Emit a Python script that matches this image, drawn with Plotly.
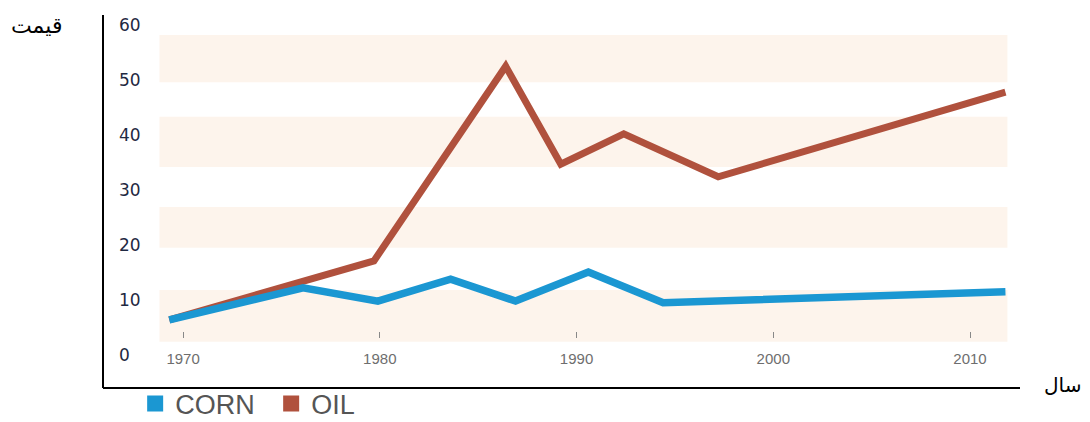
import plotly.graph_objects as go

# ---- data ----
oil_years = [1969.3, 1979.7, 1986.4, 1989.2, 1992.4, 1997.2, 2011.8]
oil_values = [6.4, 17.1, 52.5, 34.7, 40.2, 32.4, 47.8]

corn_years = [1969.3, 1976.1, 1979.9, 1983.6, 1986.9, 1990.6, 1994.4, 2011.8]
corn_values = [6.4, 12.2, 9.8, 13.8, 9.8, 15.1, 9.5, 11.5]

x_ticks = [1970, 1980, 1990, 2000, 2010]
x_tick_labels = ["1970", "1980", "1990", "2000", "2010"]
y_ticks = [0, 10, 20, 30, 40, 50, 60]
y_tick_labels = ["0", "10", "20", "30", "40", "50", "60"]

series_names = ["CORN", "OIL"]
y_title = "قیمت"
x_title = "سال"

# ---- styles ----
CORN_COLOR = "#1b97d2"
OIL_COLOR = "#b0513d"
BAND_COLOR = "#fdf4ec"
bands = [(2.4, 11.8), (19.5, 26.9), (34.2, 43.3), (49.6, 58.2)]
band_x = (1968.8, 2011.9)

fig = go.Figure()

fig.add_trace(go.Scatter(x=oil_years, y=oil_values, mode="lines",
                         line=dict(color=OIL_COLOR, width=7),
                         showlegend=False, hoverinfo="skip"))
fig.add_trace(go.Scatter(x=corn_years, y=corn_values, mode="lines",
                         line=dict(color=CORN_COLOR, width=7.5),
                         showlegend=False, hoverinfo="skip"))

# legend entries (square swatches)
for name, col in zip(series_names, [CORN_COLOR, OIL_COLOR]):
    fig.add_trace(go.Scatter(x=[None], y=[None], mode="markers", name=name,
                             marker=dict(symbol="square", size=20, color=col)))

# plot area: top pixel 8, bottom pixel 388 (height 380)
shapes = []
for lo, hi in bands:
    shapes.append(dict(type="rect", xref="x", yref="y", x0=band_x[0], x1=band_x[1],
                       y0=lo, y1=hi, fillcolor=BAND_COLOR, line=dict(width=0),
                       layer="below"))
# axis frame lines
shapes.append(dict(type="line", xref="paper", yref="paper", x0=0, x1=1, y0=0, y1=0,
                   line=dict(color="black", width=2)))
shapes.append(dict(type="line", xref="paper", yref="paper", x0=0, x1=0, y0=0, y1=373 / 380,
                   line=dict(color="black", width=2)))

fig.update_layout(
    width=1090, height=422,
    margin=dict(l=103, r=70, t=8, b=34, autoexpand=False),
    paper_bgcolor="white", plot_bgcolor="white",
    shapes=shapes,
    showlegend=True,
    legend=dict(orientation="h", xref="container", yref="container",
                x=0.124, y=0.043, xanchor="left", yanchor="middle",
                entrywidth=91, entrywidthmode="pixels",
                font=dict(family="Liberation Sans, Arial, sans-serif", size=27, color="#555555"),
                itemclick=False, bgcolor="rgba(0,0,0,0)", tracegroupgap=0),
    xaxis=dict(range=[1965.93, 2012.54], tickvals=x_ticks, ticktext=x_tick_labels,
               anchor="free", position=57 / 380, showline=False, showgrid=False, zeroline=False,
               ticks="outside", ticklen=6, tickwidth=1, tickcolor="#888888",
               ticklabelstandoff=8,
               tickfont=dict(family="Liberation Sans, Arial, sans-serif", size=15, color="#6e6e6e")),
    yaxis=dict(range=[-6.0, 63.09], tickvals=y_ticks, ticktext=y_tick_labels,
               showline=False, showgrid=False, zeroline=False,
               ticks="", ticklabelposition="inside", ticklabelstandoff=13,
               tickfont=dict(family="DejaVu Sans, Verdana, sans-serif", size=17, color="#1f2942")),
    annotations=[
        dict(text=y_title, xref="paper", yref="paper", x=-0.072, y=(388 - 25) / 380,
             xanchor="center", yanchor="middle", showarrow=False,
             font=dict(family="DejaVu Sans, sans-serif", size=22, color="black")),
        dict(text=x_title, xref="paper", yref="paper", x=1.046, y=3 / 380,
             xanchor="center", yanchor="middle", showarrow=False,
             font=dict(family="DejaVu Sans, sans-serif", size=20, color="black")),
    ],
)

fig.write_html("out.html")
